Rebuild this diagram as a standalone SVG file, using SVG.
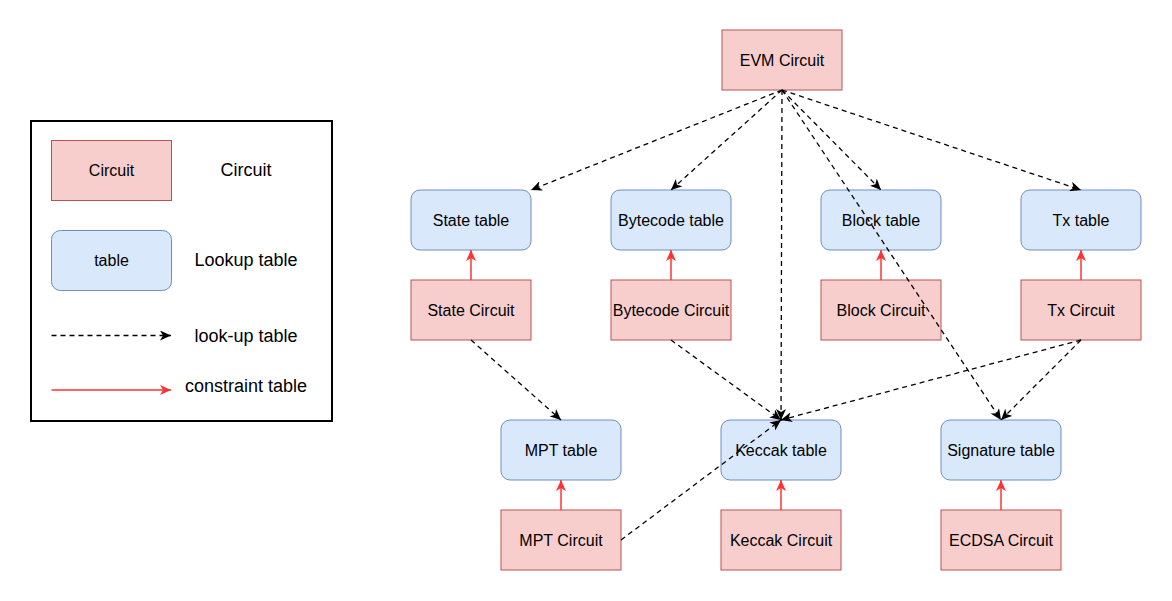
<svg xmlns="http://www.w3.org/2000/svg" width="1172" height="601" viewBox="0 0 1172 601">
<style>
.circuit{fill:#f8cecc;stroke:#b85450;stroke-width:1}
.table{fill:#dae8fc;stroke:#6c8ebf;stroke-width:1}
.lbl{font-family:"Liberation Sans",Arial,sans-serif;font-size:16px;fill:#000;text-anchor:middle;dominant-baseline:central}
.leg{font-family:"Liberation Sans",Arial,sans-serif;font-size:18px;fill:#000;text-anchor:middle;dominant-baseline:central}
.look{fill:none;stroke:#000;stroke-width:1.3;stroke-dasharray:5 4}
.cons{fill:none;stroke:#ff3333;stroke-width:1.5}
</style>
<defs>
<marker id="ab" markerUnits="userSpaceOnUse" markerWidth="12" markerHeight="10" viewBox="0 0 12 10" refX="11" refY="5" orient="auto">
<path d="M0,0 L11,5 L0,10 L3,5 Z" fill="#000" stroke="none"/>
</marker>
<marker id="ar" markerUnits="userSpaceOnUse" markerWidth="12" markerHeight="10" viewBox="0 0 12 10" refX="11" refY="5" orient="auto">
<path d="M0,0 L11,5 L0,10 L3,5 Z" fill="#ff3333" stroke="none"/>
</marker>
</defs>
<rect width="1172" height="601" fill="#ffffff"/>

<g id="legend">
<rect x="31" y="121" width="301" height="300" fill="#fff" stroke="#000" stroke-width="2"/>
<rect class="circuit" x="51.5" y="140.5" width="120" height="60"/>
<text class="lbl" x="111.5" y="170.5">Circuit</text>
<text class="leg" x="246" y="170">Circuit</text>
<rect class="table" x="51.5" y="230.5" width="120" height="60" rx="9"/>
<text class="lbl" x="111.5" y="260.5">table</text>
<text class="leg" x="246" y="260">Lookup table</text>
<line class="look" x1="51.5" y1="335.5" x2="171" y2="335.5" marker-end="url(#ab)"/>
<text class="leg" x="246" y="336">look-up table</text>
<line class="cons" x1="51.5" y1="390" x2="171" y2="390" marker-end="url(#ar)"/>
<text class="leg" x="246" y="386">constraint table</text>
</g>

<g id="evm-circuit"><rect class="circuit" x="722" y="30" width="120" height="60"/><text class="lbl" x="782" y="60">EVM Circuit</text></g>

<g id="state-table"><rect class="table" x="411" y="190" width="120" height="60" rx="9"/><text class="lbl" x="471" y="220">State table</text></g>
<g id="bytecode-table"><rect class="table" x="611" y="190" width="120" height="60" rx="9"/><text class="lbl" x="671" y="220">Bytecode table</text></g>
<g id="block-table"><rect class="table" x="821" y="190" width="120" height="60" rx="9"/><text class="lbl" x="881" y="220">Block table</text></g>
<g id="tx-table"><rect class="table" x="1021" y="190" width="120" height="60" rx="9"/><text class="lbl" x="1081" y="220">Tx table</text></g>

<g id="state-circuit"><rect class="circuit" x="411" y="280" width="120" height="60"/><text class="lbl" x="471" y="310">State Circuit</text></g>
<g id="bytecode-circuit"><rect class="circuit" x="611" y="280" width="120" height="60"/><text class="lbl" x="671" y="310">Bytecode Circuit</text></g>
<g id="block-circuit"><rect class="circuit" x="821" y="280" width="120" height="60"/><text class="lbl" x="881" y="310">Block Circuit</text></g>
<g id="tx-circuit"><rect class="circuit" x="1021" y="280" width="120" height="60"/><text class="lbl" x="1081" y="310">Tx Circuit</text></g>

<g id="mpt-table"><rect class="table" x="501" y="420" width="120" height="60" rx="9"/><text class="lbl" x="561" y="450">MPT table</text></g>
<g id="keccak-table"><rect class="table" x="721" y="420" width="120" height="60" rx="9"/><text class="lbl" x="781" y="450">Keccak table</text></g>
<g id="signature-table"><rect class="table" x="941" y="420" width="120" height="60" rx="9"/><text class="lbl" x="1001" y="450">Signature table</text></g>

<g id="mpt-circuit"><rect class="circuit" x="501" y="510" width="120" height="60"/><text class="lbl" x="561" y="540">MPT Circuit</text></g>
<g id="keccak-circuit"><rect class="circuit" x="721" y="510" width="120" height="60"/><text class="lbl" x="781" y="540">Keccak Circuit</text></g>
<g id="ecdsa-circuit"><rect class="circuit" x="941" y="510" width="120" height="60"/><text class="lbl" x="1001" y="540">ECDSA Circuit</text></g>

<g id="connectors">
<line class="look" x1="782" y1="90" x2="531" y2="190" marker-end="url(#ab)"/>
<line class="look" x1="782" y1="90" x2="671" y2="190" marker-end="url(#ab)"/>
<line class="look" x1="782" y1="90" x2="881" y2="190" marker-end="url(#ab)"/>
<line class="look" x1="782" y1="90" x2="1081" y2="190" marker-end="url(#ab)"/>
<line class="look" x1="782" y1="90" x2="781" y2="420" marker-end="url(#ab)"/>
<line class="look" x1="782" y1="90" x2="1001" y2="420" marker-end="url(#ab)"/>
<line class="look" x1="471" y1="340" x2="561" y2="420" marker-end="url(#ab)"/>
<line class="look" x1="671" y1="340" x2="781" y2="420" marker-end="url(#ab)"/>
<line class="look" x1="1081" y1="340" x2="781" y2="420" marker-end="url(#ab)"/>
<line class="look" x1="1081" y1="340" x2="1001" y2="420" marker-end="url(#ab)"/>
<line class="look" x1="621" y1="540" x2="781" y2="420" marker-end="url(#ab)"/>
<line class="cons" x1="471" y1="280" x2="471" y2="250" marker-end="url(#ar)"/>
<line class="cons" x1="671" y1="280" x2="671" y2="250" marker-end="url(#ar)"/>
<line class="cons" x1="881" y1="280" x2="881" y2="250" marker-end="url(#ar)"/>
<line class="cons" x1="1081" y1="280" x2="1081" y2="250" marker-end="url(#ar)"/>
<line class="cons" x1="561" y1="510" x2="561" y2="480" marker-end="url(#ar)"/>
<line class="cons" x1="781" y1="510" x2="781" y2="480" marker-end="url(#ar)"/>
<line class="cons" x1="1001" y1="510" x2="1001" y2="480" marker-end="url(#ar)"/>
</g>
</svg>
